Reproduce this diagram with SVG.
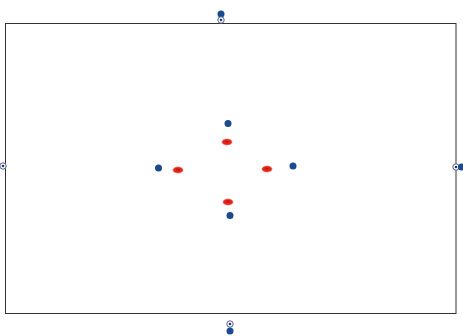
<svg xmlns="http://www.w3.org/2000/svg" width="463" height="336" viewBox="0 0 463 336">
<style>
.field{fill:none;stroke:#333;stroke-width:1}
.player{fill:#1a4a8f}
.cone{fill:#e8241a;stroke:#f05a50;stroke-width:0.6}
.ballo{fill:#fff;stroke:#5a6088;stroke-width:1}
.balli{fill:#1a3a80}
</style>
<defs>
<g id="ball"><circle class="ballo" r="3.2"/><circle class="balli" r="1.3"/></g>
<g id="cone"><ellipse class="cone" rx="5" ry="3"/><ellipse cx="0" cy="-0.5" rx="2" ry="1" fill="#c01810"/></g>
</defs>
<rect class="field" x="5.5" y="23.5" width="450.5" height="290"/>
<g id="top"><circle class="player" cx="221" cy="14" r="3.5"/><use href="#ball" x="221" y="20"/></g>
<g id="left"><use href="#ball" x="3" y="166"/></g>
<g id="right"><use href="#ball" x="456" y="167"/><circle class="player" cx="461.5" cy="167" r="3.5"/></g>
<g id="bottom"><use href="#ball" x="230" y="324"/><circle class="player" cx="230" cy="331" r="3.5"/></g>
<g id="p1"><circle class="player" cx="228" cy="123.5" r="3.5"/></g>
<g id="p2"><circle class="player" cx="158.5" cy="168" r="3.5"/></g>
<g id="p3"><circle class="player" cx="293" cy="166" r="3.5"/></g>
<g id="p4"><circle class="player" cx="230" cy="215.5" r="3.5"/></g>
<g id="c1"><use href="#cone" x="227" y="142"/></g>
<g id="c2"><use href="#cone" x="178" y="170"/></g>
<g id="c3"><use href="#cone" x="267" y="169"/></g>
<g id="c4"><use href="#cone" x="228" y="202"/></g>
</svg>
